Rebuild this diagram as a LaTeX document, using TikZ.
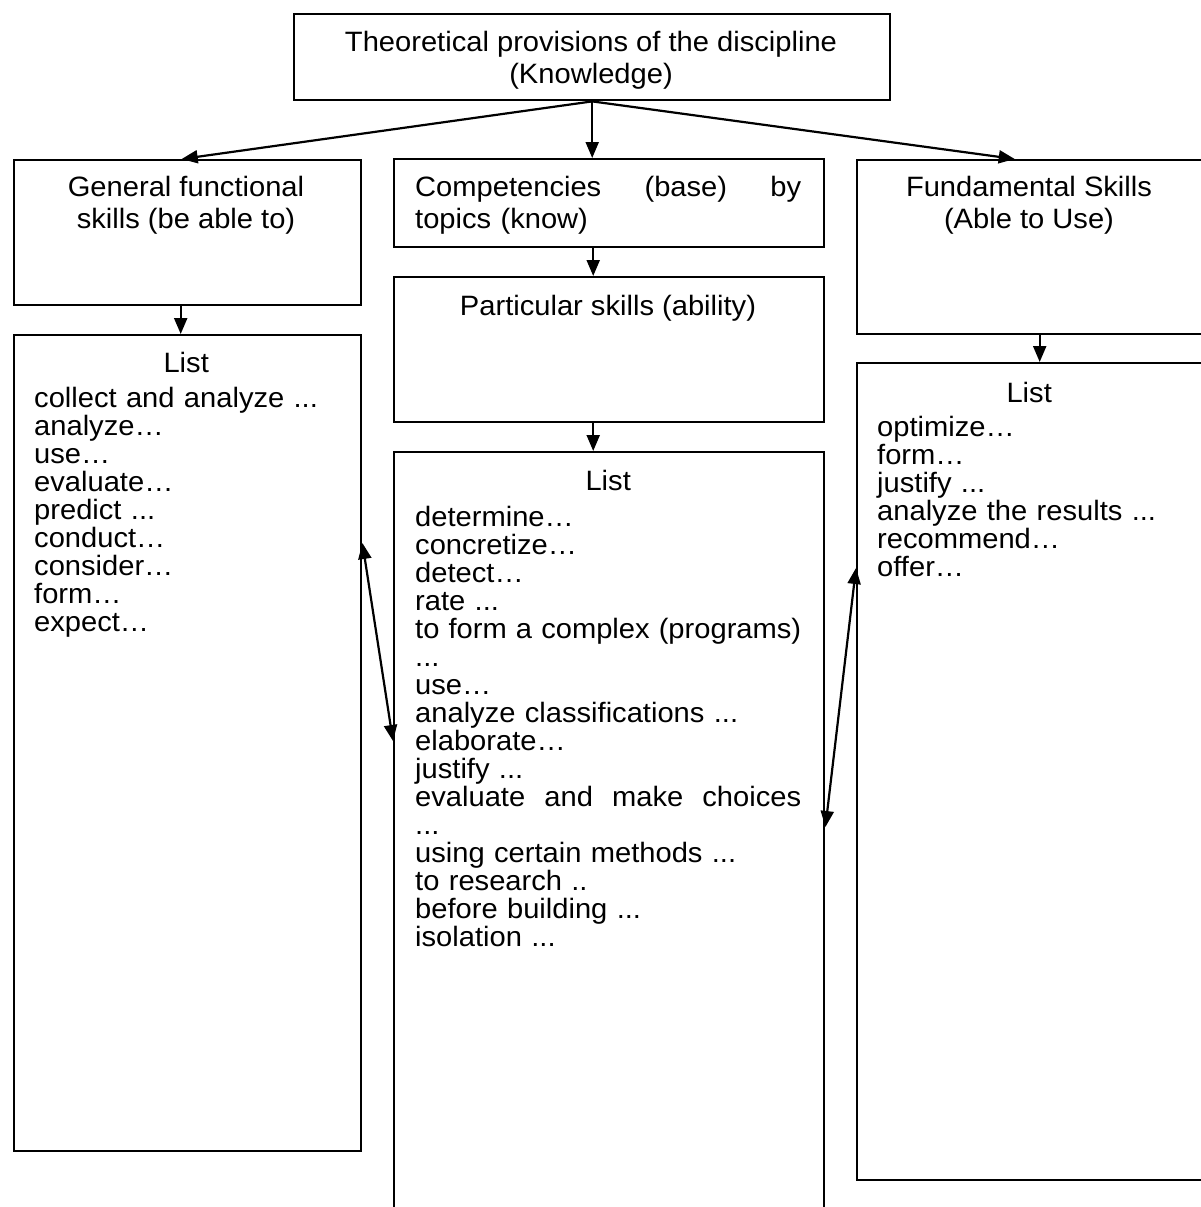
\documentclass[tikz,border=0pt]{standalone}
\usepackage{fontspec}
\setmainfont{Liberation Sans}[FakeStretch=1.04]
\usetikzlibrary{arrows.meta}
\begin{document}
\begin{tikzpicture}[x=1pt,y=-1pt,
  box/.style={draw,line width=2.4pt,rectangle,inner sep=0pt,anchor=north west},
  txt/.style={inner sep=0pt,font=\fontsize{28}{28}\selectfont},
  htxt/.style={inner sep=0pt,font=\fontsize{28}{32}\selectfont},
  arr/.style={line width=2.2pt,-{Triangle[length=16pt,width=13pt]}},
  dbl/.style={line width=2.2pt,{Triangle[length=16pt,width=13pt]}-{Triangle[length=16pt,width=13pt]}}]
\useasboundingbox (0,0) rectangle (1201,1207);
\clip (0,0) rectangle (1201,1207);
% boxes
\node[box,minimum width=596pt,minimum height=86pt] (T) at (293,13) {};
\node[box,minimum width=347pt,minimum height=145pt] (L1) at (13,159) {};
\node[box,minimum width=430pt,minimum height=88pt] (M1) at (393,158) {};
\node[box,minimum width=347pt,minimum height=174pt] (R1) at (856,159) {};
\node[box,minimum width=430pt,minimum height=145pt] (M2) at (393,276) {};
\node[box,minimum width=347pt,minimum height=816pt] (L2) at (13,334) {};
\node[box,minimum width=430pt,minimum height=780pt] (M3) at (393,451) {};
\node[box,minimum width=347pt,minimum height=817pt] (R2) at (856,362) {};
% texts
\node[htxt,align=center,anchor=north] (Tt) at (591,28.6) {\strut Theoretical provisions of the discipline\\(Knowledge)};
\node[htxt,align=center,anchor=north] (L1t) at (186,173.6) {\strut General functional\\skills (be able to)};
\node[htxt,align=left,text width=386pt,anchor=north west] (M1t) at (415,173.6) {\strut Competencies\hfill (base)\hfill by\\topics (know)};
\node[htxt,align=center,anchor=north] (R1t) at (1029,173.6) {\strut Fundamental Skills\\(Able to Use)};
\node[htxt,align=center,anchor=north] (M2t) at (608,292.6) {\strut Particular skills (ability)};
\node[txt,align=left,text width=304pt,anchor=north west] (L2t) at (34,352.4) {\strut\hfill List\hfill\null\\[5pt]
collect and analyze ...\\analyze…\\use…\\evaluate…\\predict ...\\conduct…\\consider…\\form…\\expect…};
\node[txt,align=left,text width=386pt,anchor=north west] (M3t) at (415,470.4) {\strut\hfill List\hfill\null\\[6pt]
determine…\\concretize…\\detect…\\rate ...\\to\hfill form\hfill a\hfill complex\hfill (programs)\\...\\use…\\analyze classifications ...\\elaborate…\\justify ...\\evaluate\hfill and\hfill make\hfill choices\\...\\using certain methods ...\\to research ..\\before building ...\\isolation ...};
\node[txt,align=left,text width=304pt,anchor=north west] (R2t) at (877,382.4) {\strut\hfill List\hfill\null\\[4pt]
optimize…\\form…\\justify ...\\analyze the results ...\\recommend…\\offer…};
% connectors
\draw[arr] (T.south) -- ([xshift=-6pt]L1.north);
\draw[arr] (T.south) -- (T.south |- M1.north);
\draw[arr] (T.south) -- ([xshift=-16pt]R1.north);
\draw[arr] ([xshift=-7pt]L1.south) -- ([xshift=-7pt]L2.north);
\draw[arr] ([xshift=-16pt]M1.south) -- ([xshift=-16pt]M2.north);
\draw[arr] ([xshift=-16pt]M2.south) -- ([xshift=-16pt]M3.north);
\draw[arr] ([xshift=9pt]R1.south) -- ([xshift=9pt]R2.north);
\draw[dbl] ([yshift=-209pt]L2.north east) -- ([yshift=-290pt]M3.north west);
\draw[dbl] ([yshift=-376pt]M3.north east) -- ([yshift=-206pt]R2.north west);
\end{tikzpicture}
\end{document}
